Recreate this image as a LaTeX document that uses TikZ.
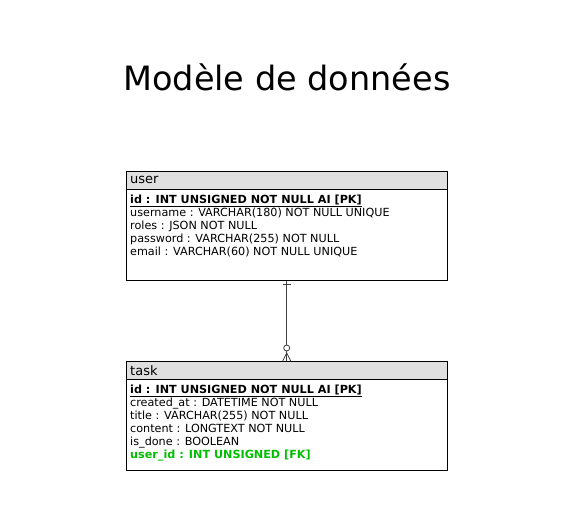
\documentclass[tikz,border=0pt]{standalone}
\usepackage{fontspec}
\setmainfont{DejaVu Sans}
\usetikzlibrary{positioning,calc}

\definecolor{headgray}{RGB}{224,224,224}
\definecolor{fkgreen}{RGB}{0,190,0}

\tikzset{
  tablehead/.style={draw, fill=headgray, anchor=north west, minimum width=321pt,
    minimum height=18pt, inner ysep=0pt, inner xsep=3.5pt, text width=313pt, align=left,
    font=\fontsize{13}{13}\selectfont},
  tablebody/.style={draw, anchor=north west, minimum width=321pt, minimum height=91pt},
  fields/.style={anchor=north west, inner sep=0pt, align=left,
    font=\fontsize{11.2}{13}\selectfont},
  relation/.style={draw=black!75, line width=0.8pt},
}
\newcommand{\pkfield}[1]{\textbf{\underline{#1}}}
\newcommand{\fkfield}[1]{\textcolor{fkgreen}{\textbf{#1}}}

\begin{document}
\begin{tikzpicture}[x=1pt, y=-1pt]
\useasboundingbox (0,0) rectangle (575,521);

% title
\node[font=\fontsize{33.5}{33.5}\selectfont] (title) at (287,77) {Modèle de données};

%% table user
\node[tablehead] (userhead) at (126,171) {user};
\node[tablebody] (userbody) at (userhead.south west) {};
\node[fields] (userfields) at ($(userbody.north west)+(4,5.5)$) {%
  \pkfield{id : INT UNSIGNED NOT NULL AI [PK]}\\
  username : VARCHAR(180) NOT NULL UNIQUE\\
  roles : JSON NOT NULL\\
  password : VARCHAR(255) NOT NULL\\
  email : VARCHAR(60) NOT NULL UNIQUE};

%% table task
\node[tablehead] (taskhead) at (126,361) {task};
\node[tablebody] (taskbody) at (taskhead.south west) {};
\node[fields] (taskfields) at ($(taskbody.north west)+(4,5.5)$) {%
  \pkfield{id : INT UNSIGNED NOT NULL AI [PK]}\\
  created\_at : DATETIME NOT NULL\\
  title : VARCHAR(255) NOT NULL\\
  content : LONGTEXT NOT NULL\\
  is\_done : BOOLEAN\\
  \fkfield{user\_id : INT UNSIGNED [FK]}};

% relation user 1 -- n task
\draw[relation] (userbody.south) -- (taskhead.north);
\draw[relation] ($(userbody.south)+(-4,4)$) -- ++(8,0);
\draw[relation, fill=white] ($(taskhead.north)+(0,-13)$) circle (3);
\draw[relation] ($(taskhead.north)+(-4,0)$) -- ($(taskhead.north)+(0,-8)$)
  -- ($(taskhead.north)+(4,0)$);

\end{tikzpicture}
\end{document}
